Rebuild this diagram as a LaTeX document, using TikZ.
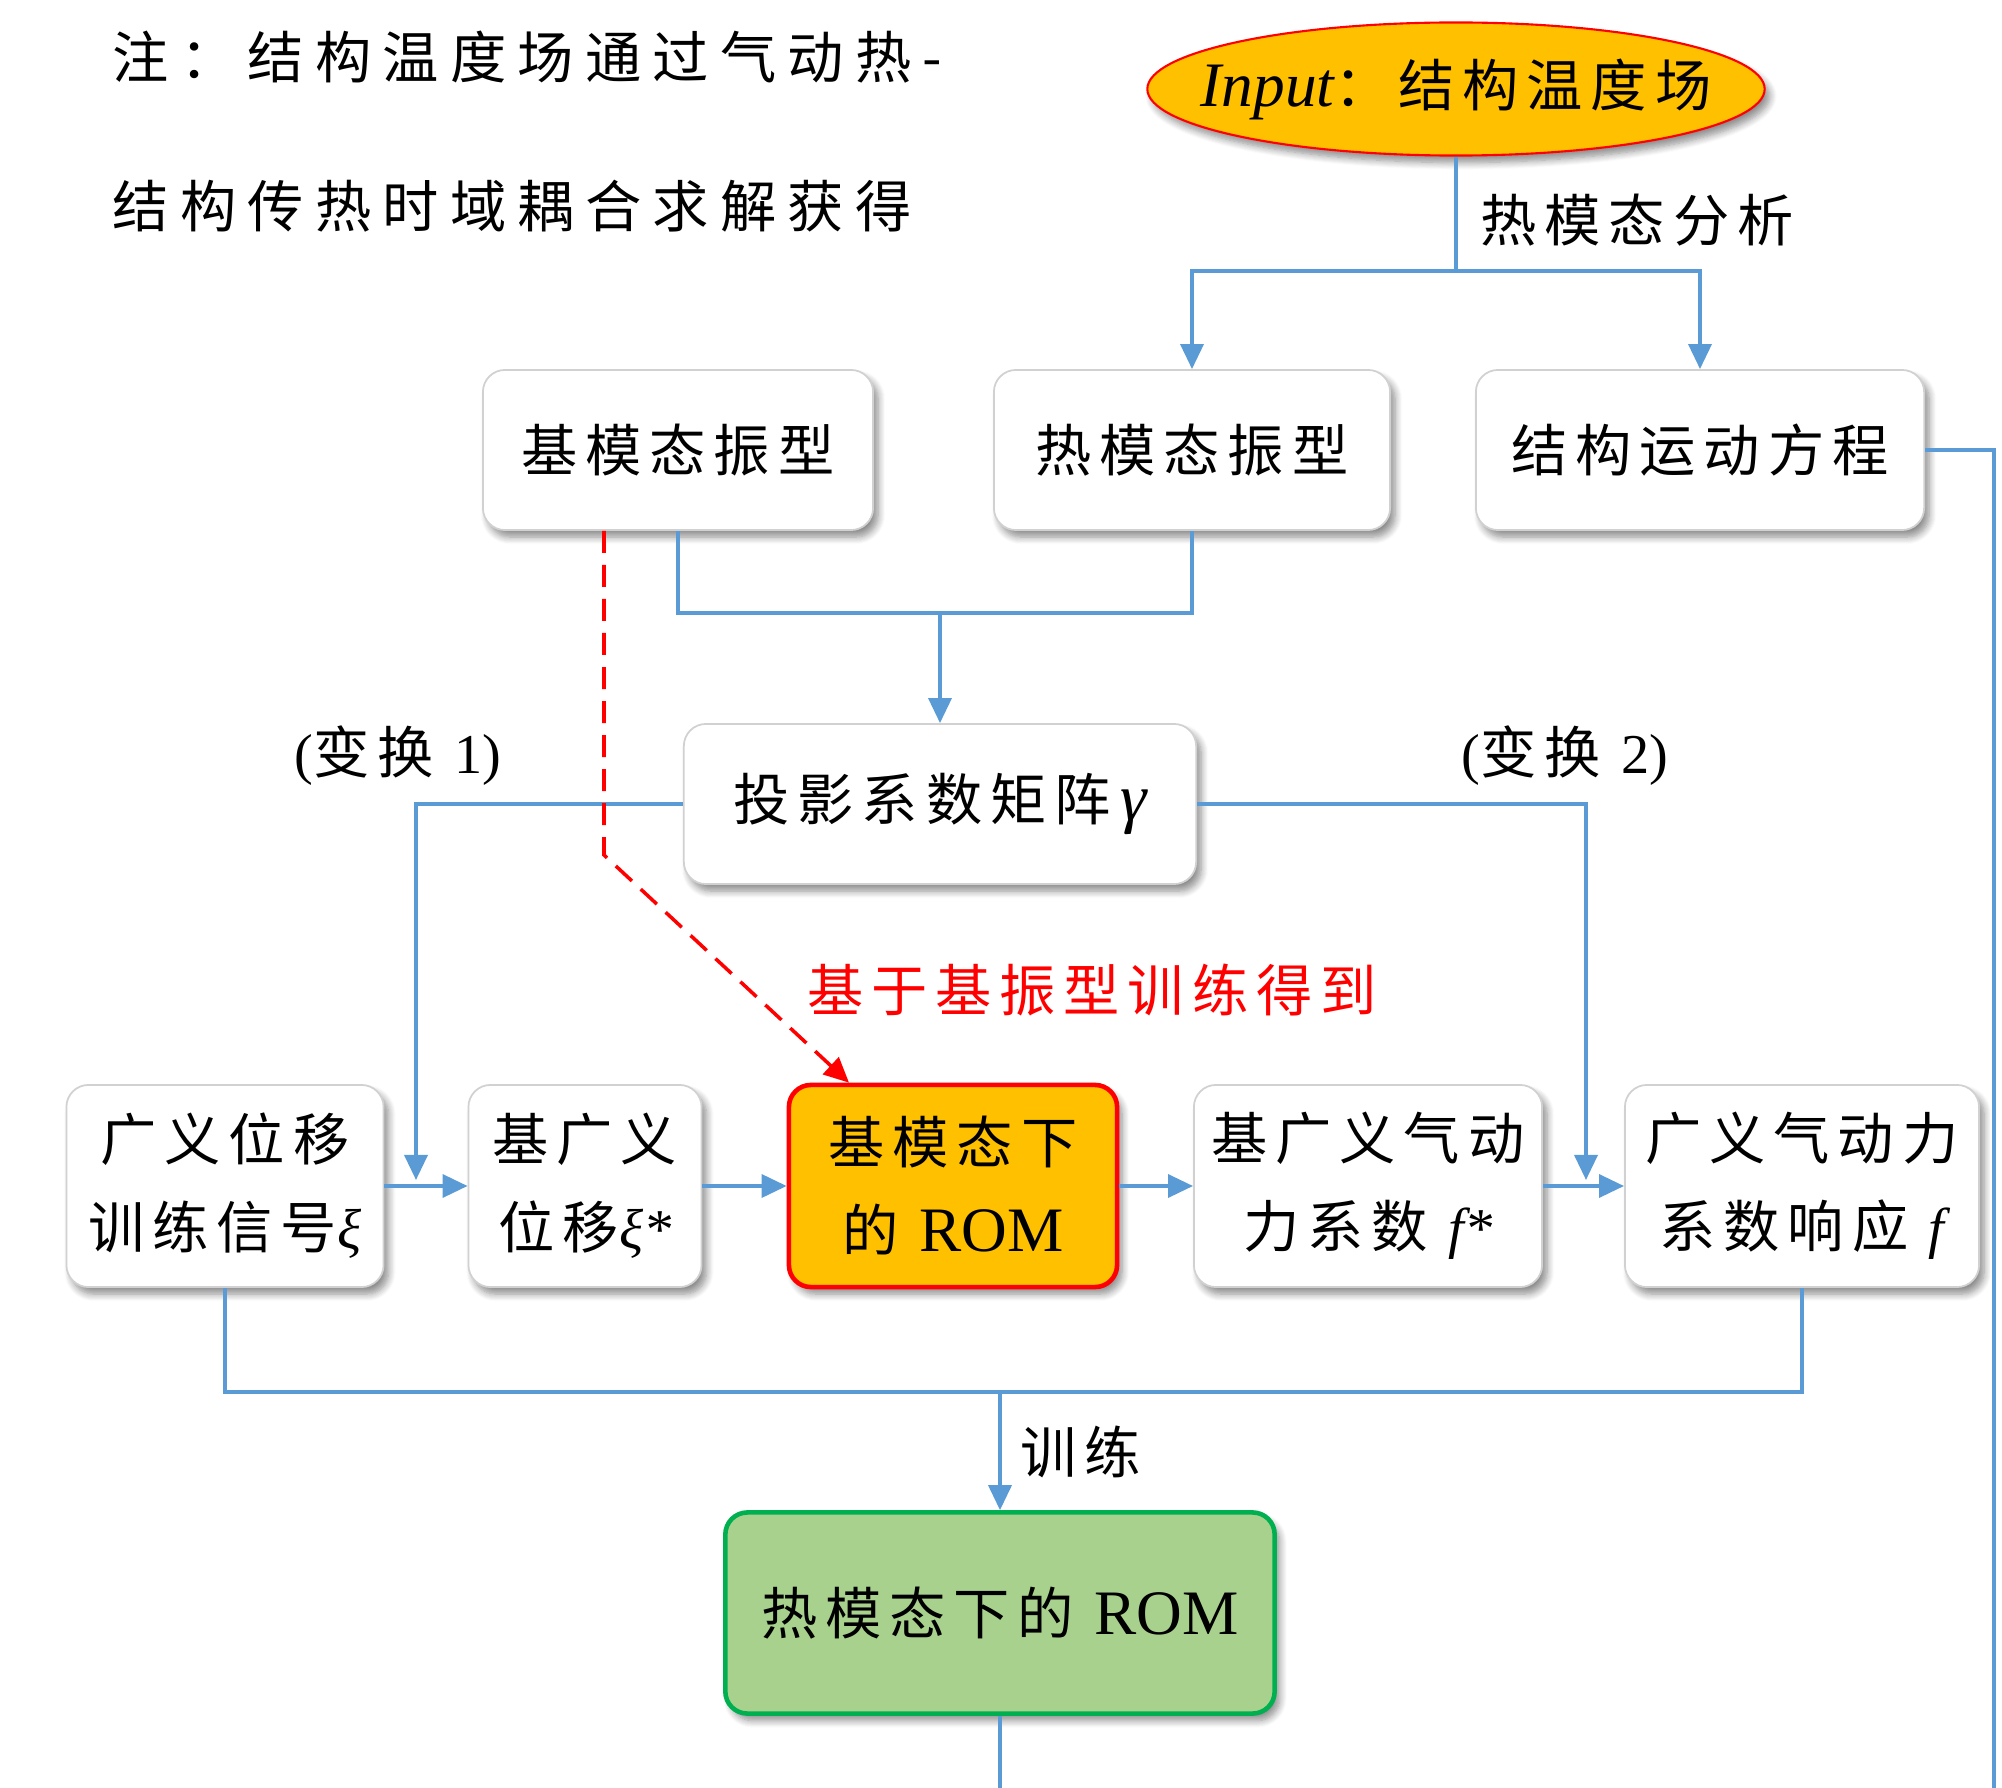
\documentclass[tikz,border=0pt]{standalone}
\usepackage{fontspec}
\setmainfont{Liberation Serif}
\newfontfamily\cjk[LetterSpace=14]{Noto Sans CJK SC}
\newfontfamily\cjkw[LetterSpace=20]{Noto Sans CJK SC}
\usetikzlibrary{arrows.meta,shapes.geometric,shadows.blur,calc}
\definecolor{lblue}{RGB}{91,155,213}
\definecolor{orng}{RGB}{255,192,0}
\definecolor{gfill}{RGB}{169,209,142}
\definecolor{gline}{RGB}{0,176,80}
\newcommand\tm[1]{{\rmfamily #1}}
\newcommand\ti[1]{{\rmfamily\itshape #1}}
\tikzset{
  txt/.style={font=\cjk\fontsize{16}{25}\selectfont, inner sep=0pt},
  shd/.style={blur shadow={shadow xshift=0.05cm, shadow yshift=-0.07cm, shadow blur radius=0.07cm, shadow blur steps=8, shadow opacity=45}},
  wbox/.style={txt, draw=black!18, line width=0.5pt, fill=white, rounded corners=0.22cm, shd, align=center},
  wire/.style={draw=lblue, line width=1pt},
  arr/.style={wire, -{Triangle[length=0.25cm,width=0.23cm]}},
  rdash/.style={draw=red, line width=1pt, dash pattern=on 0.22cm off 0.12cm, -{Triangle[length=0.25cm,width=0.23cm]}},
}
\begin{document}
\begin{tikzpicture}[x=0.01cm,y=-0.01cm]
\useasboundingbox (0,0) rectangle (2002,1788);
% note
\node[txt, font=\cjkw\fontsize{16}{25}\selectfont, anchor=west] (n1) at (112,57) {注：结构温度场通过气动热-};
\node[txt, font=\cjkw\fontsize{16}{25}\selectfont, anchor=west] (n2) at (112,206) {结构传热时域耦合求解获得};
% input
\node[ellipse, draw=red, line width=0.6pt, fill=orng, minimum width=6.17cm, minimum height=1.33cm, inner sep=0pt, shd] (inp) at (1456,89) {};
\node[txt] (inptxt) at (1456,89) {\ti{\fontsize{18}{25}\selectfont Input}：结构温度场};
\coordinate (j1) at (1456,271);
\node[txt, anchor=west] (lab1) at (1480,220) {热模态分析};
% top boxes
\node[wbox, minimum width=3.9cm, minimum height=1.6cm] (b1) at (678,450) {基模态振型};
\node[wbox, minimum width=3.96cm, minimum height=1.6cm] (b2) at (1192,450) {热模态振型};
\node[wbox, minimum width=4.48cm, minimum height=1.6cm] (b3) at (1700,450) {结构运动方程};
\coordinate (j2) at (940,613);
% projection
\node[wbox, minimum width=5.12cm, minimum height=1.6cm] (proj) at (940,804) {投影系数矩阵\,\ti{\fontsize{19}{25}\selectfont γ}};
\node[txt] (t1) at (398,756) {\tm{(}变换 \tm{1)}};
\node[txt] (t2) at (1565,756) {\tm{(}变换 \tm{2)}};
% row
\node[wbox, minimum width=3.17cm, minimum height=2.02cm] (A) at (225,1186) {广义位移\\训练信号\ti{ξ}};
\node[wbox, minimum width=2.33cm, minimum height=2.02cm] (B) at (585,1186) {基广义\\位移\ti{ξ*}};
\node[wbox, draw=red, line width=1.3pt, fill=orng, minimum width=3.28cm, minimum height=2.02cm] (C) at (953,1186) {基模态下\\的 \tm{\fontsize{18}{25}\selectfont ROM}};
\node[wbox, minimum width=3.48cm, minimum height=2.02cm] (D) at (1368,1186) {基广义气动\\力系数 \ti{f*}};
\node[wbox, minimum width=3.54cm, minimum height=2.02cm] (E) at (1802,1186) {广义气动力\\系数响应 \ti{f}};
\coordinate (k1) at (416,1180);
\coordinate (k2) at (1586,1180);
% red
\coordinate (r1) at (604,855);
\coordinate (rx) at (849,0);
\node[txt, text=red] (rl) at (1092,990) {基于基振型训练得到};
% bottom
\coordinate (bus) at (1000,1392);
\node[txt, anchor=west] (lab2) at (1020,1452) {训练};
\node[wbox, draw=gline, line width=1.3pt, fill=gfill, minimum width=5.49cm, minimum height=2.01cm] (G) at (1000,1613) {热模态下的 \tm{\fontsize{18}{25}\selectfont ROM}};
\coordinate (gend) at (1000,1788);
\coordinate (rr1) at (1994,450);
\coordinate (rr2) at (1994,1788);
% connectors
\draw[wire] (inp.south) -- (j1);
\draw[arr] (j1) -| (b2.north);
\draw[arr] (j1) -| (b3.north);
\draw[wire] (b1.south) |- (j2) -| (b2.south);
\draw[arr] (j2) -- (proj.north);
\draw[arr] (proj.west) -| (k1);
\draw[arr] (proj.east) -| (k2);
\draw[rdash] (b1.south -| r1) -- (r1) -- (C.north -| rx);
\draw[arr] (A.east) -- (B.west);
\draw[arr] (B.east) -- (C.west);
\draw[arr] (C.east) -- (D.west);
\draw[arr] (D.east) -- (E.west);
\draw[wire] (A.south) |- (bus) -| (E.south);
\draw[arr] (bus) -- (G.north);
\draw[wire] (G.south) -- (gend);
\draw[wire] (b3.east) -- (rr1) -- (rr2);
\end{tikzpicture}
\end{document}
